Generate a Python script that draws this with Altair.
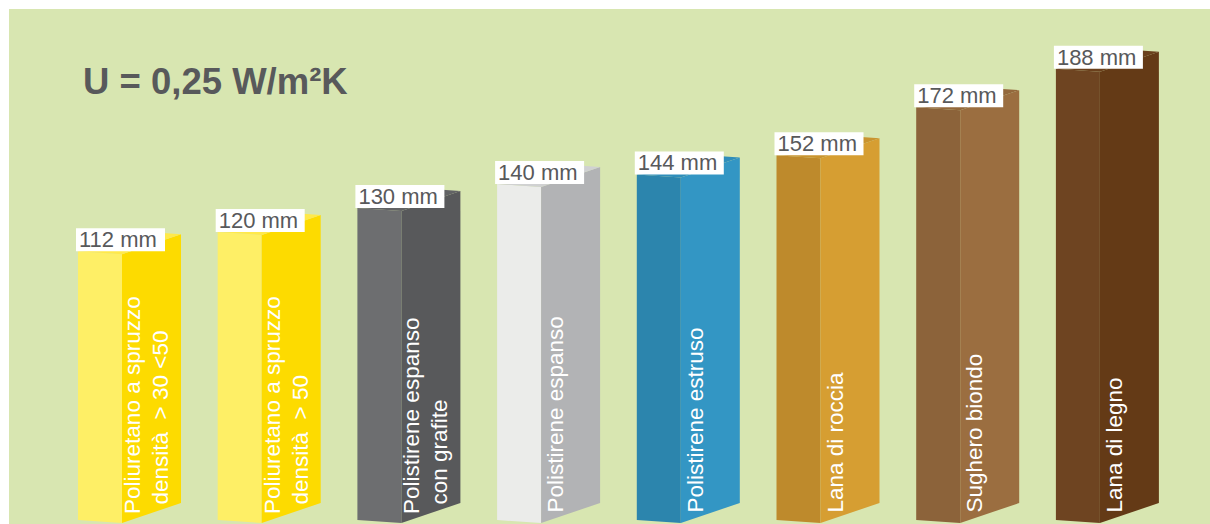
import altair as alt
import pandas as pd

# ---------------- data ----------------
thickness_mm = [112, 120, 130, 140, 144, 152, 172, 188]
label_lines = [
    ["Poliuretano a spruzzo", "densità\u00a0 > 30 <50"],
    ["Poliuretano a spruzzo", "densità\u00a0 > 50"],
    ["Polistirene espanso", "con grafite"],
    ["Polistirene espanso"],
    ["Polistirene estruso"],
    ["Lana di roccia"],
    ["Sughero biondo"],
    ["Lana di legno"],
]
front_colors = ["#FEEF66", "#FEEF66", "#6D6E70", "#EBECEA", "#2C85AD", "#BE8A2C", "#8C633A", "#6E4421"]
side_colors = ["#FDDB00", "#FDDB00", "#58595B", "#B2B3B5", "#3396C4", "#D69E32", "#9B6E40", "#643A16"]
top_colors = ["#FFE94A", "#FFE94A", "#626365", "#D0D1D2", "#2F8EBA", "#C9942F", "#93683C", "#6A401C"]
title_text = "U = 0,25 W/m²K"

# ---------------- layout constants (style) ----------------
W, H = 1201, 515
PX_SLOT = 139.7          # pixels per category slot
PX_MM = 2.4              # pixels per mm
X0 = -69 / PX_SLOT
x_dom = [X0, X0 + W / PX_SLOT]
y_dom = [-(524 - 520) / PX_MM, (520 - 9) / PX_MM]
FW = 44 / PX_SLOT        # front face width
SW = 59 / PX_SLOT        # side face width
D1 = 3 / PX_MM           # front face drop
D2 = 20 / PX_MM          # side face rise

face_rows = []
keys, colors = [], []
for i, v in enumerate(thickness_mm):
    L, M, R = i, i + FW, i + FW + SW
    kf, ks, kt = f"{i}f", f"{i}s", f"{i}t"
    keys += [kf, ks, kt]
    colors += [front_colors[i], side_colors[i], top_colors[i]]
    face_rows += [
        dict(key=kf, x=L, top=v, bot=0),
        dict(key=kf, x=M, top=v - D1, bot=-D1),
        dict(key=ks, x=M, top=v - D1, bot=-D1),
        dict(key=ks, x=R, top=v - D1 + D2, bot=-D1 + D2),
        dict(key=kt, x=L, top=v, bot=v),
        dict(key=kt, x=M, top=v + D2 * FW / SW, bot=v - D1),
        dict(key=kt, x=L + SW, top=v + D2, bot=v - D1 + D2 * (L + SW - M) / SW),
        dict(key=kt, x=R, top=v - D1 + D2, bot=v - D1 + D2),
    ]
faces_df = pd.DataFrame(face_rows)

box_df = pd.DataFrame({
    "x": [i - 2 / PX_SLOT for i in range(len(thickness_mm))],
    "x2": [i + 87 / PX_SLOT for i in range(len(thickness_mm))],
    "y": thickness_mm,
    "y2": [v + 23 / PX_MM for v in thickness_mm],
    "tx": [i + 1 / PX_SLOT for i in range(len(thickness_mm))],
    "ty": [v + 4 / PX_MM for v in thickness_mm],
    "label": [f"{v} mm" for v in thickness_mm],
})

name_rows = []
for i, lines in enumerate(label_lines):
    offs = [66] if len(lines) == 1 else [62, 90]
    for off, line in zip(offs, lines):
        t = (off - 6) - 44
        bottom_px = 523 - 20 * t / 59 - 5
        name_rows.append(dict(x=i + off / PX_SLOT, y=(520 - bottom_px) / PX_MM, line=line))
names_df = pd.DataFrame(name_rows)

xs = alt.Scale(domain=x_dom, nice=False, zero=False)
ys = alt.Scale(domain=y_dom, nice=False, zero=False)

faces = alt.Chart(faces_df).mark_area(interpolate="linear", clip=True).encode(
    x=alt.X("x:Q", scale=xs, axis=None),
    y=alt.Y("top:Q", scale=ys, axis=None, stack=None),
    y2="bot:Q",
    color=alt.Color("key:N", scale=alt.Scale(domain=keys, range=colors), legend=None),
)

boxes = alt.Chart(box_df).mark_rect(color="white").encode(
    x=alt.X("x:Q", scale=xs, axis=None),
    x2="x2:Q",
    y=alt.Y("y:Q", scale=ys, axis=None),
    y2="y2:Q",
)

values = alt.Chart(box_df).mark_text(
    align="left", baseline="alphabetic", font="Liberation Sans", fontSize=22, color="#58595B"
).encode(
    x=alt.X("tx:Q", scale=xs, axis=None),
    y=alt.Y("ty:Q", scale=ys, axis=None),
    text="label:N",
)

names = alt.Chart(names_df).mark_text(
    align="left", baseline="alphabetic", angle=270, font="Liberation Sans", fontSize=22.5, color="white"
).encode(
    x=alt.X("x:Q", scale=xs, axis=None),
    y=alt.Y("y:Q", scale=ys, axis=None),
    text="line:N",
)

title = alt.Chart(pd.DataFrame({"t": [title_text]})).mark_text(
    align="left", baseline="alphabetic", font="Liberation Sans", fontSize=36.5, fontWeight="bold", color="#58595B"
).encode(
    x=alt.value(74),
    y=alt.value(85),
    text="t:N",
)

chart = alt.layer(faces, boxes, values, names, title).properties(
    width=W,
    height=H,
    autosize=alt.AutoSizeParams(type="none"),
    padding={"left": 9, "top": 9, "right": 0, "bottom": 0},
    background="white",
).configure_view(fill="#D8E6B1", strokeWidth=0)

chart.save("out.html", embed_options={"renderer": "svg", "actions": False})
